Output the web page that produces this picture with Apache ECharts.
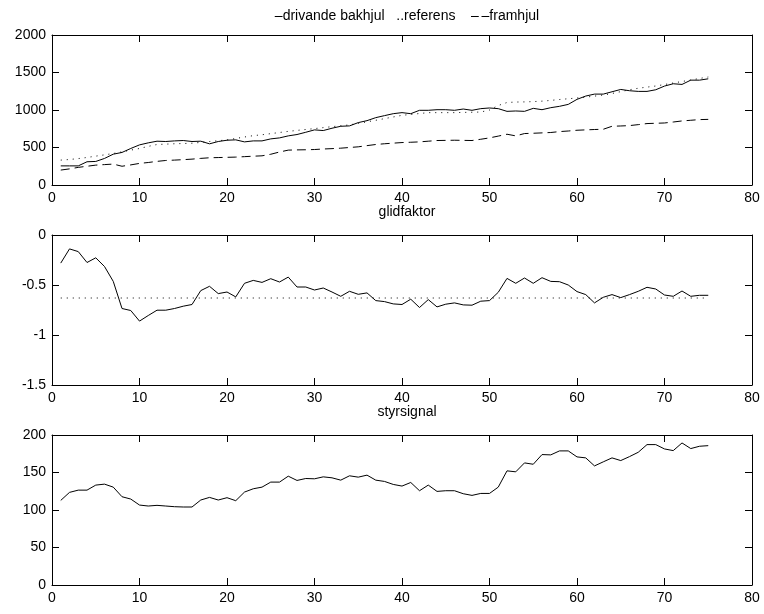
<!DOCTYPE html>
<html><head><meta charset="utf-8">
<script src="https://cdn.jsdelivr.net/npm/echarts@6/dist/echarts.min.js"></script>
<style>html,body{margin:0;padding:0;background:#fff}#c{width:764px;height:614px}</style>
</head><body><div id="c"></div>
<script>
const xs = [1,2,3,4,5,6,7,8,9,10,11,12,13,14,15,16,17,18,19,20,21,22,23,24,25,26,27,28,29,30,31,32,33,34,35,36,37,38,39,40,41,42,43,44,45,46,47,48,49,50,51,52,53,54,55,56,57,58,59,60,61,62,63,64,65,66,67,68,69,70,71,72,73,74,75];
const bakhjul = [255,255,255,310,314,354,411,434,487,535,562,584,580,588,593,580,584,549,580,597,602,575,588,588,615,628,655,673,703,735,726,757,783,788,832,858,898,925,951,965,951,996,996,1004,1004,996,1013,996,1018,1027,1018,982,987,982,1022,1004,1031,1049,1075,1142,1186,1212,1212,1243,1274,1257,1248,1248,1270,1319,1350,1341,1398,1398,1416];
const referens = [332,340,352,367,385,402,420,442,465,487,515,540,545,550,553,557,568,580,590,602,620,640,658,670,685,700,715,728,740,752,765,778,790,801,822,843,863,885,907,929,941,953,965,965,965,965,968,970,973,1000,1060,1100,1106,1108,1112,1118,1128,1140,1150,1160,1172,1185,1200,1220,1245,1270,1290,1305,1320,1340,1360,1380,1400,1420,1440];
const framhjul = [199,215,235,250,265,272,279,250,268,288,300,315,327,332,338,345,355,363,366,369,372,378,384,389,410,440,465,468,470,473,480,485,491,500,509,525,540,550,558,566,570,575,584,593,595,597,595,593,610,628,652,677,655,686,690,695,700,712,720,730,735,740,743,783,787,792,805,819,823,827,840,854,863,872,875];
const glid = [-0.281,-0.139,-0.166,-0.275,-0.228,-0.315,-0.464,-0.735,-0.755,-0.861,-0.805,-0.752,-0.752,-0.735,-0.712,-0.695,-0.556,-0.513,-0.586,-0.570,-0.619,-0.483,-0.454,-0.474,-0.437,-0.470,-0.421,-0.520,-0.520,-0.550,-0.530,-0.570,-0.613,-0.563,-0.593,-0.579,-0.656,-0.666,-0.689,-0.695,-0.642,-0.725,-0.646,-0.719,-0.692,-0.679,-0.699,-0.702,-0.662,-0.656,-0.573,-0.434,-0.483,-0.430,-0.483,-0.427,-0.464,-0.467,-0.500,-0.566,-0.596,-0.679,-0.623,-0.596,-0.626,-0.596,-0.563,-0.523,-0.540,-0.600,-0.613,-0.560,-0.613,-0.603,-0.603];
const glidRefX = [1, 75];
const glidRefY = [-0.63, -0.63];
const styr = [112.8,123.5,126.5,126.5,133.2,134.5,130.5,117.7,114.6,106.6,105.3,106.2,105.3,104.4,104,104,113.3,116.8,113.3,116.4,112.4,123.9,128.3,130.5,137.2,137.2,145.1,139.4,142,141.6,144.2,142.9,139.8,145.6,143.8,146.5,139.8,138.1,134.1,131.9,136.7,125.7,133.2,124.8,125.7,125.7,121.7,119.5,122.1,122.1,130.5,152.2,150.9,162.8,161,173.9,173.5,178.8,178.8,170.8,169.5,158.8,164.2,169.5,165.9,171.2,177,187.2,187.2,181.4,179.2,189.4,181.9,185,185.8];
const legendText = '\u2013drivande bakhjul   ..referens    \u2013\u2009\u2013framhjul';
const titles = ['glidfaktor', 'styrsignal'];

const FONT = 'Liberation Sans';
const FS = 14;
const grids = [
  {left: 52, top: 35, width: 700, height: 150},
  {left: 52, top: 235, width: 700, height: 150},
  {left: 52, top: 435, width: 700, height: 150}
];
const yCfg = [{min:0,max:2000,interval:500},{min:-1.5,max:0,interval:0.5},{min:0,max:200,interval:50}];
const lineAx = {show:true, onZero:false, lineStyle:{color:'#000', width:1}};
const tickIn = {show:true, inside:true, length:7, lineStyle:{color:'#000', width:1}};
const lbl = {color:'#000', fontFamily:FONT, fontSize:FS, formatter: v => String(v)};
const xAxis = [], yAxis = [];
grids.forEach((g, i) => {
  xAxis.push({type:'value', gridIndex:i, min:0, max:80, interval:10, position:'bottom', axisLine:lineAx, axisTick:tickIn, axisLabel:Object.assign({margin:6}, lbl), splitLine:{show:false}});
  xAxis.push({type:'value', gridIndex:i, min:0, max:80, interval:10, position:'top', axisLine:lineAx, axisTick:tickIn, axisLabel:{show:false}, splitLine:{show:false}});
  yAxis.push(Object.assign({type:'value', gridIndex:i, position:'left', axisLine:lineAx, axisTick:tickIn, axisLabel:Object.assign({margin:6}, lbl), splitLine:{show:false}}, yCfg[i]));
  yAxis.push(Object.assign({type:'value', gridIndex:i, position:'right', axisLine:lineAx, axisTick:tickIn, axisLabel:{show:false}, splitLine:{show:false}}, yCfg[i]));
});
const pair = (a, b) => a.map((v, i) => [v, b[i]]);
const base = {type:'line', symbol:'none', silent:true, animation:false};
const series = [
  Object.assign({}, base, {xAxisIndex:0, yAxisIndex:0, data:pair(xs, bakhjul), lineStyle:{color:'#000', width:1}}),
  Object.assign({}, base, {xAxisIndex:0, yAxisIndex:0, data:pair(xs, referens), lineStyle:{color:'#000', width:1, type:[1,5]}}),
  Object.assign({}, base, {xAxisIndex:0, yAxisIndex:0, data:pair(xs, framhjul), lineStyle:{color:'#000', width:1, type:[9,5]}}),
  Object.assign({}, base, {xAxisIndex:2, yAxisIndex:2, data:pair(xs, glid), lineStyle:{color:'#000', width:1}}),
  Object.assign({}, base, {xAxisIndex:2, yAxisIndex:2, data:pair(glidRefX, glidRefY), lineStyle:{color:'#000', width:1, type:[1,5]}}),
  Object.assign({}, base, {xAxisIndex:4, yAxisIndex:4, data:pair(xs, styr), lineStyle:{color:'#000', width:1}})
];
const tStyle = {color:'#000', fontFamily:FONT, fontSize:FS, fontWeight:'normal'};
const chart = echarts.init(document.getElementById('c'), null, {renderer:'canvas'});
chart.setOption({
  backgroundColor:'#fff',
  animation:false,
  title:[
    {text:legendText, left:402, top:4, textAlign:'center', textStyle:tStyle},
    {text:titles[0], left:402, top:200, textAlign:'center', textStyle:tStyle},
    {text:titles[1], left:402, top:400, textAlign:'center', textStyle:tStyle}
  ],
  grid:grids, xAxis:xAxis, yAxis:yAxis, series:series
});
</script></body></html>
